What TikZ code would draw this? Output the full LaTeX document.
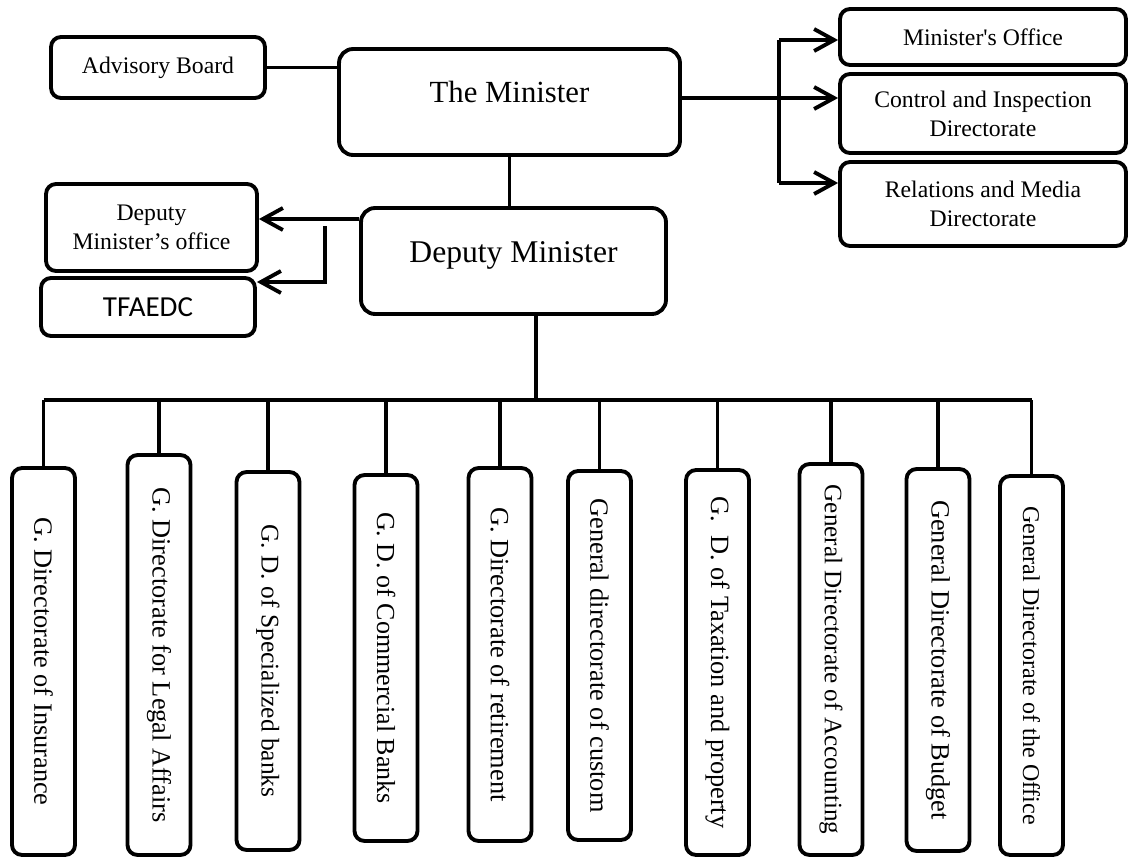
\documentclass[tikz,border=0pt]{standalone}
\usepackage{fontspec}
\setmainfont{Liberation Serif}[Ligatures=TeXOff]
\newfontfamily\carlito{Carlito}
\usepackage{tikz}
\usetikzlibrary{arrows.meta, positioning, calc}

\begin{document}
\begin{tikzpicture}[
    x=0.02cm, y=-0.02cm,
    box/.style={rectangle, rounded corners=0.2cm, draw=black, line width=2.2pt, fill=white, align=center, inner sep=2pt, font=\fontsize{13.5}{16.5}\selectfont},
    bigbox/.style={box, rounded corners=0.28cm, minimum height=2.12cm, text height=0.5cm},
    dirbox/.style={box, rotate=-90, minimum height=1.26cm, font=\fontsize{15}{18}\selectfont},
    conn/.style={line width=2.2pt},
    arr/.style={conn, -{Straight Barb[length=4mm, width=4.4mm]}}
]
\useasboundingbox (0,0) rectangle (1130,859);

% Top level
\node[box, minimum width=4.28cm, minimum height=1.22cm] (adv) at (158,67.5) {Advisory Board};
\node[bigbox, minimum width=6.82cm, text depth=0.48cm, font=\fontsize{17.5}{20}\selectfont] (min) at (509.5,102) {The Minister};

% Offices attached to the minister
\node[box, minimum width=5.72cm, minimum height=1.12cm] (moff) at (983,37) {Minister's Office};
\node[box, minimum width=5.72cm, minimum height=1.58cm] (ctrl) at (983,113.5) {Control and Inspection\\Directorate};
\node[box, minimum width=5.72cm, minimum height=1.68cm] (rel) at (983,204) {Relations and Media\\Directorate};

% Deputy level
\node[bigbox, minimum width=6.1cm, text depth=0.44cm, font=\fontsize{18}{21}\selectfont] (dep) at (513.5,261) {Deputy Minister};
\node[box, minimum width=4.22cm, minimum height=1.74cm] (dmo) at (151.5,227.5) {Deputy\\Minister’s office};
\node[box, minimum width=4.28cm, minimum height=1.16cm, font=\carlito\fontsize{16.5}{19}\selectfont] (tfa) at (148,307) {TFAEDC};

% General directorates
\node[dirbox, minimum width=7.74cm] (d1) at (43.5,661.5) {G. Directorate of Insurance};
\node[dirbox, minimum width=8.0cm] (d2) at (159,655) {G. Directorate for Legal Affairs};
\node[dirbox, minimum width=7.56cm, font=\fontsize{14.5}{17}\selectfont] (d3) at (268,661) {G. D. of Specialized banks};
\node[dirbox, minimum width=7.32cm, font=\fontsize{14.8}{17}\selectfont] (d4) at (386,658) {G. D. of Commercial Banks};
\node[dirbox, minimum width=7.46cm] (d5) at (500,654.5) {G. Directorate of retirement};
\node[dirbox, minimum width=7.38cm] (d6) at (599.5,655.5) {General directorate of custom};
\node[dirbox, minimum width=7.70cm] (d7) at (717.5,662.5) {G.\ \ D. of Taxation and property};
\node[dirbox, minimum width=7.82cm, font=\fontsize{14.3}{17}\selectfont] (d8) at (831,659.5) {General Directorate of Accounting};
\node[dirbox, minimum width=7.64cm] (d9) at (938,660) {General Directorate of Budget};
\node[dirbox, minimum width=7.58cm, font=\fontsize{13.7}{16}\selectfont] (d10) at (1031.5,665.5) {General Directorate of the Office};

% Junctions
\coordinate (mfork) at (779,98);
\coordinate (mtop) at (779,40);
\coordinate (mbot) at (779,183);
\coordinate (dfork) at (325,219);
\coordinate (dtop) at (325,226);
\coordinate (dbot) at (325,282);
\coordinate (bus) at (536,400);

% Minister links
\draw[conn] (adv.east) -- (adv.east -| min.west);
\draw[arr] (min.east |- mfork) -- (ctrl.west |- mfork);
\draw[conn] (mtop) -- (mbot);
\draw[arr] (mtop) -- (moff.west |- mtop);
\draw[arr] (mbot) -- (rel.west |- mbot);
\draw[conn] (min.south) -- (min.south |- dep.north);

% Deputy links
\draw[arr] (dep.west |- dfork) -- (dmo.east |- dfork);
\draw[arr] (dtop) -- (dbot) -- (tfa.east |- dbot);
\draw[conn] (dep.south -| bus) -- (bus);

% Bus to the directorates
\draw[conn] (d1.west |- bus) -- (d10.west |- bus);
\draw[conn] (d1.west |- bus) -- (d1.west);
\draw[conn] (d2.west |- bus) -- (d2.west);
\draw[conn] (d3.west |- bus) -- (d3.west);
\draw[conn] (d4.west |- bus) -- (d4.west);
\draw[conn] (d5.west |- bus) -- (d5.west);
\draw[conn] (d6.west |- bus) -- (d6.west);
\draw[conn] (d7.west |- bus) -- (d7.west);
\draw[conn] (d8.west |- bus) -- (d8.west);
\draw[conn] (d9.west |- bus) -- (d9.west);
\draw[conn] (d10.west |- bus) -- (d10.west);

\end{tikzpicture}
\end{document}
